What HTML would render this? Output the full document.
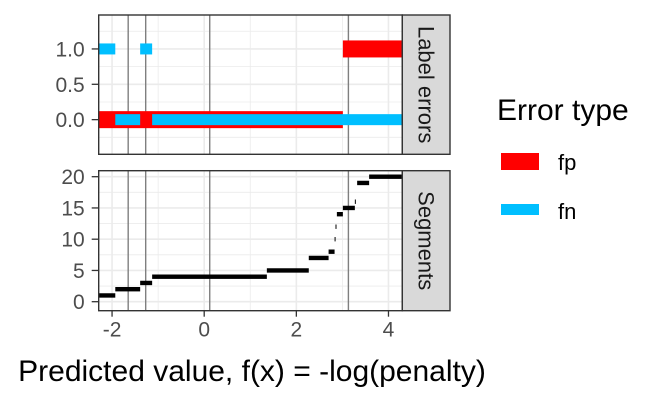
<!DOCTYPE html>
<html><head><meta charset="utf-8"><style>
body{margin:0;background:#fff;}
svg{display:block;font-family:"Liberation Sans",sans-serif;}
</style></head><body>
<svg id="chart" width="660" height="400"></svg>
<script>
const xTicks=[-2,0,2,4];
const xMinor=[-1,1,3];
const vlines=[-1.65,-1.27,0.12,3.13];
const topTicks=[0,0.5,1];
const topMinor=[0.25,0.75,-0.25,1.25];
const botTicks=[0,5,10,15,20];
const botMinor=[2.5,7.5,12.5,17.5];
// label errors: [x0,x1,y]
const fpSegs=[[-2.29,3.01,0],[3.01,4.30,1]];
const fnSegs=[[-2.29,-1.93,1],[-1.39,-1.13,1],[-1.93,-1.39,0],[-1.13,4.30,0]];
// segments: starts, ends, values
const segStart=[-2.29,-1.93,-1.39,-1.13,1.36,2.27,2.70,2.83,2.85,2.88,3.01,3.27,3.32,3.58];
const segEnd=[-1.93,-1.39,-1.13,1.36,2.27,2.70,2.83,2.84,2.86,3.01,3.27,3.29,3.58,4.30];
const segVal=[1,2,3,4,5,7,8,10,12,14,15,16,19,20];

const NS="http://www.w3.org/2000/svg";
const svg=document.getElementById('chart');
function el(t,a,p){const e=document.createElementNS(NS,t);for(const k in a)e.setAttribute(k,a[k]);(p||svg).appendChild(e);return e;}
const L=98.7,R=402.3,xmin=-2.29,xmax=4.30;
const X=v=>L+(v-xmin)/(xmax-xmin)*(R-L);
const T0=15,T1=154.3,tymin=-0.49,tymax=1.48;
const YT=v=>T1-(v-tymin)/(tymax-tymin)*(T1-T0);
const B0=170.7,B1=310.7,bymin=-1.44,bymax=20.96;
const YB=v=>B1-(v-bymin)/(bymax-bymin)*(B1-B0);

function panel(y0,y1,Y,ticks,minor,name){
  const g=el('g',{});
  
  
  el('rect',{x:L,y:y0,width:R-L,height:y1-y0,fill:'#fff'},g);
  minor.forEach(v=>{const y=Y(v);if(y>y0&&y<y1)el('line',{x1:L,x2:R,y1:y,y2:y,stroke:'#ebebeb','stroke-width':0.8},g);});
  xMinor.forEach(v=>el('line',{x1:X(v),x2:X(v),y1:y0,y2:y1,stroke:'#ebebeb','stroke-width':0.8},g));
  ticks.forEach(v=>el('line',{x1:L,x2:R,y1:Y(v),y2:Y(v),stroke:'#ebebeb','stroke-width':1.6},g));
  xTicks.forEach(v=>el('line',{x1:X(v),x2:X(v),y1:y0,y2:y1,stroke:'#ebebeb','stroke-width':1.6},g));
  vlines.forEach(v=>{const l=el('line',{x1:X(v),x2:X(v),y1:y0,y2:y1,stroke:'#7f7f7f','stroke-width':1.4},g);
    });
  ticks.forEach(v=>{
    el('line',{x1:L-7,x2:L,y1:Y(v),y2:Y(v),stroke:'#333','stroke-width':1.3},g);
    const t=el('text',{x:L-14,y:Y(v)+7.5,'text-anchor':'end','font-size':21,fill:'#4d4d4d'},g);
    t.textContent=(name==='label-errors-panel')?v.toFixed(1):String(v);
    
  });
  return g;
}
const gt=panel(T0,T1,YT,topTicks,topMinor,'label-errors-panel');
fpSegs.forEach(s=>{const r=el('rect',{x:X(s[0]),y:YT(s[2])-8.5,width:X(s[1])-X(s[0]),height:17,fill:'#ff0000'},gt);
  });
fnSegs.forEach(s=>{const r=el('rect',{x:X(s[0]),y:YT(s[2])-5.5,width:X(s[1])-X(s[0]),height:11,fill:'#00bfff'},gt);
  });
el('rect',{x:L,y:T0,width:R-L,height:T1-T0,fill:'none',stroke:'#333','stroke-width':1.4},gt);

const gb=panel(B0,B1,YB,botTicks,botMinor,'segments-panel');
segVal.forEach((v,i)=>{const r=el('rect',{x:X(segStart[i]),y:YB(v)-2.2,width:Math.max(1,X(segEnd[i])-X(segStart[i])),height:4.4,fill:'#000'},gb);
  });
el('rect',{x:L,y:B0,width:R-L,height:B1-B0,fill:'none',stroke:'#333','stroke-width':1.4},gb);
xTicks.forEach(v=>{
  el('line',{x1:X(v),x2:X(v),y1:B1,y2:B1+6,stroke:'#333','stroke-width':1.3});
  const t=el('text',{x:X(v),y:B1+26,'text-anchor':'middle','font-size':21,fill:'#4d4d4d'});
  t.textContent=String(v);
  
});
function strip(y0,y1,label,name){
  const g=el('g',{});
  
  el('rect',{x:R,y:y0,width:450-R,height:y1-y0,fill:'#d9d9d9',stroke:'#333','stroke-width':1.4},g);
  const cx=(R+450)/2,cy=(y0+y1)/2;
  const t=el('text',{x:cx,y:cy,transform:`rotate(90 ${cx} ${cy})`,'text-anchor':'middle','dominant-baseline':'central','font-size':22,fill:'#1a1a1a'},g);
  t.textContent=label;
}
strip(T0,T1,'Label errors','strip-label-errors');
strip(B0,B1,'Segments','strip-segments');
const xt=el('text',{x:252,y:381,'text-anchor':'middle','font-size':30,fill:'#000'});
xt.textContent='Predicted value, f(x) = -log(penalty)';

const lg=el('g',{});

const lt=el('text',{x:497,y:120,'font-size':30,fill:'#000'},lg);lt.textContent='Error type';
el('rect',{x:501,y:153,width:38,height:17,fill:'#ff0000'},lg);
const l1=el('text',{x:558,y:170,'font-size':22,fill:'#000'},lg);l1.textContent='fp';

el('rect',{x:501,y:204,width:38,height:11,fill:'#00bfff'},lg);
const l2=el('text',{x:558,y:219,'font-size':22,fill:'#000'},lg);l2.textContent='fn';

</script>
</body></html>
